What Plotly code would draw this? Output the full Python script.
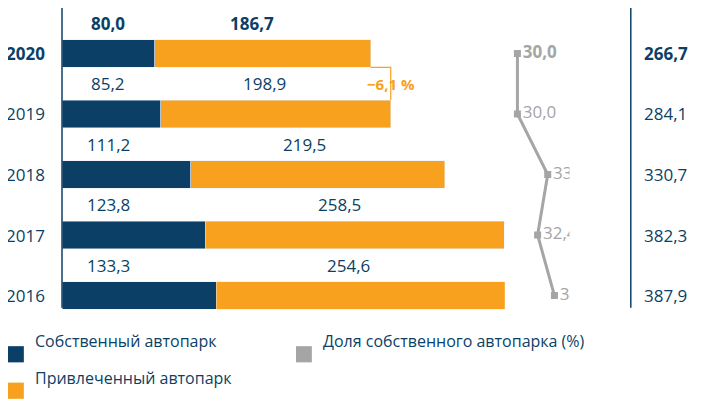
import plotly.graph_objects as go

fnt = "Open Sans"
(c_own, c_hired, c_share) = ("#0b3f66", "#f7a11f", "#a5a5a5")

years = ["2016", "2017", "2018", "2019", "2020"]
own = [133.3, 123.8, 111.2, 85.2, 80.0]
hired = [254.6, 258.5, 219.5, 198.9, 186.7]
totals = [387.9, 382.3, 330.7, 284.1, 266.7]
share = [34.4, 32.4, 33.6, 30.0, 30.0]
change_label = "−6,1 %"
fmt = lambda v: f"{v:.1f}".replace(".", ",")

ypos = list(range(len(years)))
fig = go.Figure()
fig.add_trace(go.Bar(y=ypos, x=own, orientation="h", marker_color=c_own, width=0.45,
                     name="Собственный автопарк", showlegend=False))
fig.add_trace(go.Bar(y=ypos, x=hired, orientation="h", marker_color=c_hired, width=0.45,
                     name="Привлеченный автопарк", showlegend=False))
fig.add_trace(go.Scatter(y=ypos, x=share, xaxis="x2", mode="lines+markers+text",
                         line=dict(color=c_share, width=3), marker=dict(symbol="square", size=7, color=c_share),
                         text=[("<b>%s</b>" if i == 4 else "%s") % fmt(v) for i, v in enumerate(share)],
                         textposition="middle right", textfont=dict(family=fnt, size=17, color=c_share),
                         showlegend=False))

for i, y in enumerate(ypos):
    b = "<b>%s</b>" if i == 4 else "%s"
    fig.add_annotation(x=40, y=y + 0.5, text=b % fmt(own[i]), showarrow=False,
                       font=dict(family=fnt, size=17, color=c_own))
    fig.add_annotation(x=own[i] + hired[i] * 0.45, y=y + 0.5, text=b % fmt(hired[i]), showarrow=False,
                       font=dict(family=fnt, size=17, color=c_own))
    fig.add_annotation(x=0.88, xref="paper", y=y, text=b % fmt(totals[i]), showarrow=False,
                       xanchor="left", font=dict(family=fnt, size=17, color=c_own))
    fig.add_annotation(x=-0.005, xref="paper", y=y, text=b % years[i], showarrow=False,
                       xanchor="left", font=dict(family=fnt, size=17, color=c_own))

# bracket for year-over-year change
fig.add_shape(type="path", path=f"M {totals[4]},3.77 L {totals[3]},3.77 L {totals[3]},3.23",
              line=dict(color=c_hired, width=1.2))
fig.add_annotation(x=totals[3], y=3.5, text="<b>%s</b>" % change_label, showarrow=False,
                   font=dict(family=fnt, size=15, color=c_hired))

# axis lines
fig.add_shape(type="line", xref="paper", yref="paper", x0=0.075, x1=0.075, y0=0.26, y1=1,
              line=dict(color=c_own, width=1.5))
fig.add_shape(type="line", xref="paper", yref="paper", x0=0.865, x1=0.865, y0=0.26, y1=1,
              line=dict(color=c_own, width=1.5))

# legend
legend_items = [("Собственный автопарк", c_own, 0.0, 0.145),
                ("Привлеченный автопарк", c_hired, 0.0, 0.055),
                ("Доля собственного автопарка (%)", c_share, 0.4, 0.145)]
for name, col, lx, ly in legend_items:
    fig.add_shape(type="rect", xref="paper", yref="paper", x0=lx, x1=lx + 0.022,
                  y0=ly - 0.02, y1=ly + 0.02, fillcolor=col, line_width=0)
    fig.add_annotation(x=lx + 0.035, y=ly, xref="paper", yref="paper", text=name, showarrow=False,
                       xanchor="left", font=dict(family=fnt, size=16, color=c_own))

fig.update_layout(
    barmode="stack", width=720, height=405, margin=dict(l=0, r=0, t=0, b=0),
    plot_bgcolor="white", paper_bgcolor="white",
    xaxis=dict(domain=[0.075, 0.75], range=[0, 420], visible=False),
    xaxis2=dict(domain=[0.69, 0.78], range=[28.5, 36.2], visible=False, anchor="y"),
    yaxis=dict(range=[-1.94, 4.75], visible=False),
)
fig.write_html("out.html")
